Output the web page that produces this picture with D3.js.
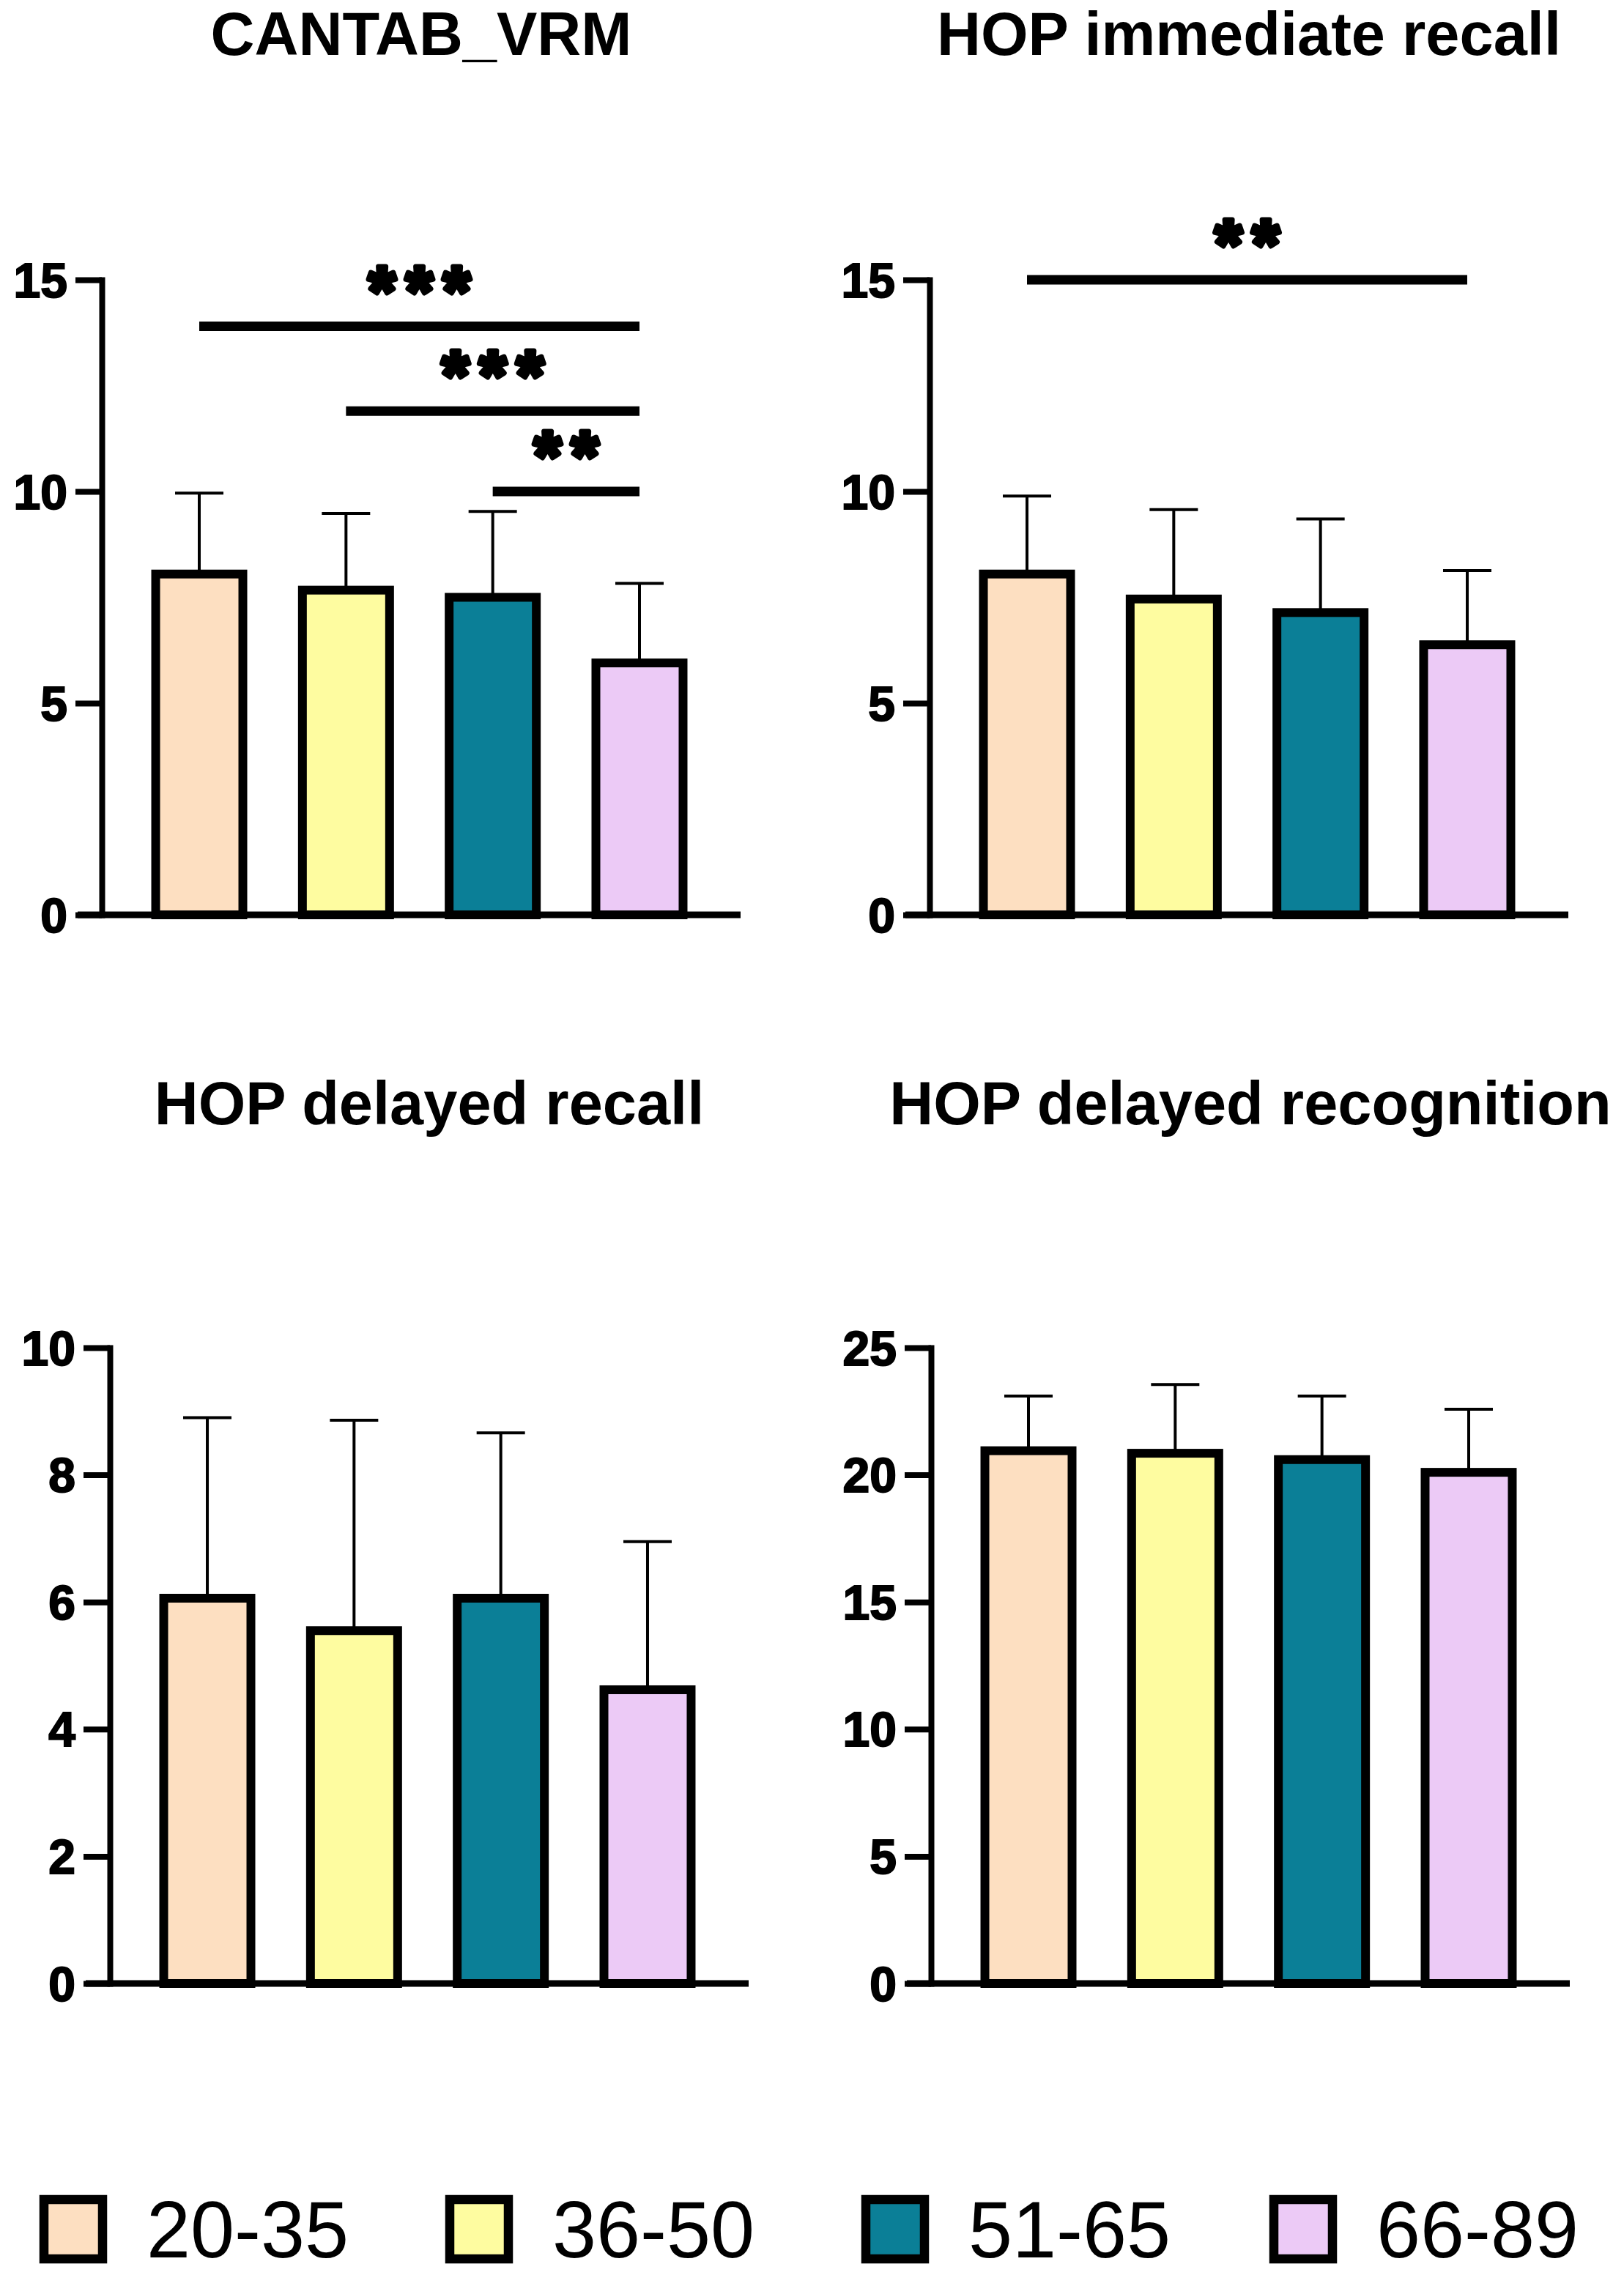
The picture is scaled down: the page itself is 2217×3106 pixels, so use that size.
<!DOCTYPE html>
<html lang="en">

<head>
    <meta charset="UTF-8">
    <title>Memory scores by age group</title>
    <script src="https://d3js.org/d3.v7.min.js"></script>
    <style>
        body { margin: 0; background: #fff; }
        svg { display: block; font-family: "Liberation Sans", Arial, sans-serif; }
    </style>
</head>

<body>
    <svg id="chart" width="2217" height="3106"></svg>
</body>
<script>
    // age groups and their fills
    const groups = ["20-35", "36-50", "51-65", "66-89"];
    const colors = ["#FDDFC1", "#FEFCA0", "#0B7F97", "#ECCAF6"];

    // means and upper SD
    const cantabMean = [8.05, 7.67, 7.5, 5.95];
    const cantabSD = [1.91, 1.81, 2.03, 1.88];
    const hopImmMean = [8.05, 7.46, 7.14, 6.38];
    const hopImmSD = [1.84, 2.11, 2.21, 1.75];
    const hopDelMean = [6.06, 5.55, 6.06, 4.62];
    const hopDelSD = [2.84, 3.31, 2.6, 2.33];
    const hopRecMean = [20.95, 20.85, 20.6, 20.1];
    const hopRecSD = [2.15, 2.7, 2.5, 2.48];

    // significance brackets: group index from/to, height in data units
    const cantabSig = [
        { from: 0, to: 3, y: 13.9, label: "***" },
        { from: 1, to: 3, y: 11.9, label: "***" },
        { from: 2, to: 3, y: 10.0, label: "**" }
    ];
    const hopImmSig = [
        { from: 0, to: 3, y: 15.0, label: "**" }
    ];

    const cantabTicks = [0, 5, 10, 15];
    const hopImmTicks = [0, 5, 10, 15];
    const hopDelTicks = [0, 2, 4, 6, 8, 10];
    const hopRecTicks = [0, 5, 10, 15, 20, 25];

    const panels = [
        { title: "CANTAB_VRM", mean: cantabMean, sd: cantabSD, ticks: cantabTicks, sig: cantabSig,
          ax: 139, y0: 1249, y1: 382, titleY: 75 },
        { title: "HOP immediate recall", mean: hopImmMean, sd: hopImmSD, ticks: hopImmTicks, sig: hopImmSig,
          ax: 1269, y0: 1249, y1: 382, titleY: 75 },
        { title: "HOP delayed recall", mean: hopDelMean, sd: hopDelSD, ticks: hopDelTicks, sig: [],
          ax: 150, y0: 2708, y1: 1840, titleY: 1535 },
        { title: "HOP delayed recognition", mean: hopRecMean, sd: hopRecSD, ticks: hopRecTicks, sig: [],
          ax: 1271, y0: 2708, y1: 1840, titleY: 1535 }
    ];

    const svg = d3.select("#chart");
    const plotW = 872;
    const barStroke = 12;

    panels.forEach(p => {
        const g = svg.append("g");
        const x = d3.scaleBand()
            .domain(groups)
            .range([p.ax, p.ax + 867])
            .paddingInner(0.406)
            .paddingOuter(0.367);
        const y = d3.scaleLinear()
            .domain([0, d3.max(p.ticks)])
            .range([p.y0, p.y1]);

        g.append("text")
            .attr("x", p.ax + plotW / 2)
            .attr("y", p.titleY)
            .attr("text-anchor", "middle")
            .attr("font-size", 83)
            .attr("font-weight", "bold")
            .text(p.title);

        // error bars (upper only)
        const cx = i => x(groups[i]) + x.bandwidth() / 2;
        g.selectAll(".err")
            .data(p.mean)
            .join("line")
            .attr("x1", (d, i) => cx(i))
            .attr("x2", (d, i) => cx(i))
            .attr("y1", d => y(d))
            .attr("y2", (d, i) => y(d + p.sd[i]))
            .attr("stroke", "#000")
            .attr("stroke-width", 4);
        g.selectAll(".cap")
            .data(p.mean)
            .join("line")
            .attr("x1", (d, i) => cx(i) - 33)
            .attr("x2", (d, i) => cx(i) + 33)
            .attr("y1", (d, i) => y(d + p.sd[i]))
            .attr("y2", (d, i) => y(d + p.sd[i]))
            .attr("stroke", "#000")
            .attr("stroke-width", 4);

        g.selectAll("rect")
            .data(p.mean)
            .join("rect")
            .attr("x", (d, i) => x(groups[i]))
            .attr("y", d => y(d))
            .attr("width", x.bandwidth())
            .attr("height", d => y(0) - y(d))
            .attr("fill", (d, i) => colors[i])
            .attr("stroke", "#000")
            .attr("stroke-width", barStroke);

        // y axis
        const yAxis = g.append("g")
            .attr("transform", `translate(${p.ax},0)`)
            .call(d3.axisLeft(y).tickValues(p.ticks).tickSize(36).tickSizeOuter(0).tickPadding(11));
        yAxis.select(".domain")
            .attr("stroke-width", 8)
            .attr("stroke-linecap", "square");
        yAxis.selectAll(".tick line").attr("stroke-width", 8);
        yAxis.selectAll(".tick text")
            .attr("font-size", 66)
            .attr("font-weight", "bold")
            .attr("font-family", "Liberation Sans, Arial, sans-serif")
            .attr("fill", "#000")
            .attr("stroke", "#000")
            .attr("stroke-width", 2)
            .attr("dy", "0.35em");

        // x axis baseline, runs a little left of the y axis
        g.append("line")
            .attr("x1", p.ax - 33)
            .attr("x2", p.ax + plotW)
            .attr("y1", y(0))
            .attr("y2", y(0))
            .attr("stroke", "#000")
            .attr("stroke-width", 9);

        // significance lines and stars (stroked so they look as chunky as the original)
        p.sig.forEach(s => {
            const xa = cx(s.from), xb = cx(s.to);
            g.append("line")
                .attr("x1", xa).attr("x2", xb)
                .attr("y1", y(s.y)).attr("y2", y(s.y))
                .attr("stroke", "#000")
                .attr("stroke-width", 13);
            const n = s.label.length;
            const pitch = 51;
            for (let k = 0; k < n; k++) {
                g.append("text")
                    .attr("x", (xa + xb) / 2 + (k - (n - 1) / 2) * pitch)
                    .attr("y", y(s.y) - 16)
                    .attr("text-anchor", "middle")
                    .attr("font-size", 96)
                    .attr("font-weight", "bold")
                    .attr("stroke", "#000")
                    .attr("stroke-width", 7)
                    .attr("stroke-linejoin", "round")
                    .text("*");
            }
        });
    });

    // legend along the bottom
    const legendX = [54, 608, 1176, 1733];
    const legend = svg.append("g");
    groups.forEach((name, i) => {
        legend.append("rect")
            .attr("x", legendX[i] + 6)
            .attr("y", 3003)
            .attr("width", 80)
            .attr("height", 81)
            .attr("fill", colors[i])
            .attr("stroke", "#000")
            .attr("stroke-width", 12.5);
        legend.append("text")
            .attr("x", legendX[i] + 146)
            .attr("y", 3082)
            .attr("font-size", 110)
            .attr("textLength", 276)
            .attr("lengthAdjust", "spacingAndGlyphs")
            .text(name);
    });
</script>

</html>
